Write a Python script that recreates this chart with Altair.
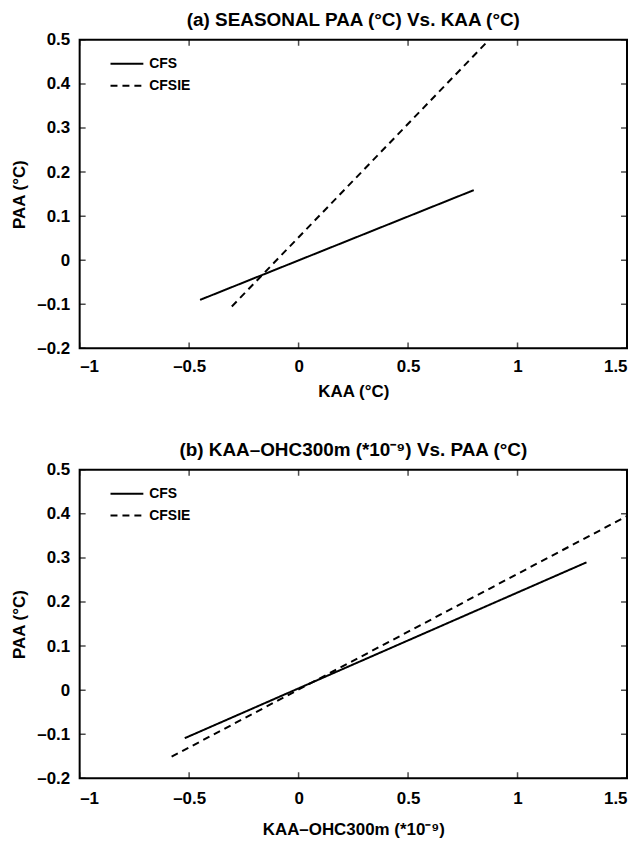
import altair as alt
import pandas as pd

# ---------------- data ----------------
SERIES = ["CFS", "CFS", "CFSIE", "CFSIE"]

# panel (a): SEASONAL PAA vs KAA
A_X = [-0.45, 0.80, -0.305, 0.87]
A_Y = [-0.090, 0.159, -0.105, 0.50]

# panel (b): KAA-OHC300m vs PAA
B_X = [-0.52, 1.315, -0.58, 1.50]
B_Y = [-0.109, 0.290, -0.151, 0.395]

X_TICKS = [-1, -0.5, 0, 0.5, 1, 1.5]
Y_TICKS = [-0.2, -0.1, 0, 0.1, 0.2, 0.3, 0.4, 0.5]

TITLE_A = "(a) SEASONAL PAA (°C) Vs. KAA (°C)"
TITLE_B = "(b) KAA–OHC300m (*10⁻⁹) Vs. PAA (°C)"
XTITLE_A = "KAA (°C)"
XTITLE_B = "KAA–OHC300m (*10⁻⁹)"
YTITLE = "PAA (°C)"

# ---------------- styling ----------------
FONT = "Liberation Sans"
W, H = 550, 310
LABEL_EXPR = ("datum.value == 0 ? '0' : (datum.value < 0 ? '–' : '') + "
              "format(abs(datum.value), '~g')")


def panel(xs, ys, title, xtitle, xlabpad, xtitpad):
    df = pd.DataFrame({"series": SERIES, "x": xs, "y": ys})
    xscale = alt.Scale(domain=[-1, 1.5], nice=False, zero=False)
    yscale = alt.Scale(domain=[-0.2, 0.5], nice=False, zero=False)
    xaxis = alt.Axis(values=X_TICKS, title=xtitle, labelExpr=LABEL_EXPR,
                     labelPadding=xlabpad, titlePadding=xtitpad)
    yaxis = alt.Axis(values=Y_TICKS, title=YTITLE, labelExpr=LABEL_EXPR,
                     labelPadding=10, titlePadding=8)

    lines = alt.Chart(df).mark_line(color="black", strokeWidth=2, clip=True).encode(
        x=alt.X("x:Q", scale=xscale, axis=xaxis),
        y=alt.Y("y:Q", scale=yscale, axis=yaxis),
        strokeDash=alt.StrokeDash(
            "series:N",
            scale=alt.Scale(domain=["CFS", "CFSIE"], range=[[1, 0], [7, 5]]),
            legend=alt.Legend(title=None, orient="none", legendX=30, legendY=16,
                              symbolType="stroke", symbolSize=1089,
                              symbolStrokeWidth=2, symbolStrokeColor="black",
                              labelFont=FONT, labelFontSize=14, labelFontWeight="bold",
                              labelOffset=5, clipHeight=16, rowPadding=6, padding=0),
        ),
    )

    xt = pd.DataFrame({"v": X_TICKS})
    yt = pd.DataFrame({"v": Y_TICKS})
    tick_style = dict(color="black", size=12, thickness=1.5, clip=True)
    xb = alt.Chart(xt).mark_tick(**tick_style).encode(
        x=alt.X("v:Q", scale=xscale, axis=xaxis), y=alt.value(H))
    xtp = alt.Chart(xt).mark_tick(**tick_style).encode(
        x=alt.X("v:Q", scale=xscale, axis=xaxis), y=alt.value(0))
    yl = alt.Chart(yt).mark_tick(**tick_style).encode(
        y=alt.Y("v:Q", scale=yscale, axis=yaxis), x=alt.value(0))
    yr = alt.Chart(yt).mark_tick(**tick_style).encode(
        y=alt.Y("v:Q", scale=yscale, axis=yaxis), x=alt.value(W))

    return alt.layer(lines, xb, xtp, yl, yr).properties(
        width=W, height=H,
        title=alt.Title(title, font=FONT, fontSize=19, fontWeight="bold",
                        offset=1, anchor="middle"),
    )


chart = alt.vconcat(
    panel(A_X, A_Y, TITLE_A, XTITLE_A, 10, 9),
    panel(B_X, B_Y, TITLE_B, XTITLE_B, 12, 15),
    spacing=40,
).resolve_scale(strokeDash="independent").resolve_legend(
    strokeDash="independent"
).properties(
    padding={"left": 1, "top": 0, "right": 0, "bottom": 0},
    background="white",
).configure_view(
    stroke="black", strokeWidth=2
).configure_axis(
    domain=False, ticks=False, grid=False,
    labelFont=FONT, labelFontSize=17, labelFontWeight="bold", labelColor="black",
    titleFont=FONT, titleFontSize=17, titleFontWeight="bold", titleColor="black",
)

chart.save("out.html", embed_options={"renderer": "svg", "actions": False})
